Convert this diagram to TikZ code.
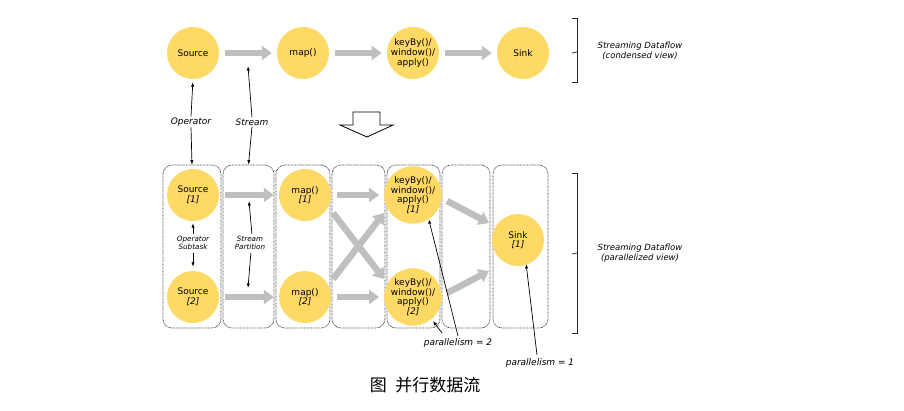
\documentclass[tikz,border=0pt]{standalone}
\usepackage{fontspec}
\setmainfont{DejaVu Sans}
\newfontfamily\cjk{Noto Sans CJK SC}
\usetikzlibrary{arrows.meta,calc}
\definecolor{opyellow}{HTML}{FFD966}
\definecolor{flowgray}{HTML}{BFBFBF}
\definecolor{boxline}{HTML}{3A3A3A}
\begin{document}
\begin{tikzpicture}[x=1pt,y=-1pt,
  opnode/.style={circle,fill=opyellow,minimum size=52pt,inner sep=0pt,align=center,
    font=\fontsize{9}{9.6}\selectfont},
  flow/.style={draw=flowgray,line width=6.5pt,-{Triangle[width=14pt,length=10pt]}},
  hflow/.style={flow,shorten <=6pt,shorten >=5pt},
  arr/.style={-{Latex[length=4.5pt,width=3.2pt]},line width=0.7pt},
  lbl/.style={inner sep=1pt,align=center,font=\fontsize{9}{10}\selectfont\itshape},
  slbl/.style={inner sep=1pt,align=center,font=\fontsize{7.2}{8.5}\selectfont\itshape},
  blbl/.style={inner sep=1pt,align=center,font=\fontsize{8.5}{10.5}\selectfont\itshape},
  taskbox/.style={draw=boxline,line width=0.7pt,dash pattern=on 0.7pt off 0.7pt,
    rounded corners=9pt,minimum height=163pt,inner sep=0pt},
  brk/.style={line width=0.7pt,draw=black!85}
]
\useasboundingbox (0,0) rectangle (904,410);
\fill[white] (0,0) rectangle (904,410);

% ---------- condensed view ----------
\node[opnode] (src) at (193,53) {Source};
\node[opnode] (map) at (303,53) {map()};
\node[opnode] (key) at (413,53) {keyBy()/\\window()/\\apply()};
\node[opnode] (sink) at (523,53) {Sink};
\draw[hflow] (src) -- (map);
\draw[hflow] (map) -- (key);
\draw[hflow] (key) -- (sink);

\draw[brk] (572,18) -- (577,18) -- (577,82) -- (572,82);
\draw[brk] (577,52) -- (572,53);
\node[blbl] (bt1) at (640,51) {Streaming Dataflow\\(condensed view)};

% labels between views
\node[lbl] (op) at (191,122) {Operator};
\node[lbl] (st) at (252,122) {Stream};
\coordinate (sttip) at (248,66);

% big hollow arrow
\draw[line width=0.8pt,line join=miter] (353,112) -- (380,112) -- (380,125) -- (393,125)
  -- (367,137) -- (340,125) -- (353,125) -- cycle;

% ---------- parallelized view ----------
\node[taskbox,minimum width=58pt] (box1) at (192,246.5) {};
\node[taskbox,minimum width=51pt] (box2) at (248.5,246.5) {};
\node[taskbox,minimum width=54pt] (box3) at (303,246.5) {};
\node[taskbox,minimum width=53pt] (box4) at (358.5,246.5) {};
\node[taskbox,minimum width=53pt] (box5) at (413.5,246.5) {};
\node[taskbox,minimum width=48pt] (box6) at (466,246.5) {};
\node[taskbox,minimum width=55pt] (box7) at (520.5,246.5) {};

\node[opnode] (src1) at (193,195) {Source\\\textit{[1]}};
\node[opnode] (src2) at (193,297) {Source\\\textit{[2]}};
\node[opnode] (map1) at (305,195) {map()\\\textit{[1]}};
\node[opnode] (map2) at (305,297) {map()\\\textit{[2]}};
\node[opnode] (key1) at (413,195) {keyBy()/\\window()/\\apply()\\\textit{[1]}};
\node[opnode] (key2) at (413,297) {keyBy()/\\window()/\\apply()\\\textit{[2]}};
\node[opnode] (sink1) at (518,240) {Sink\\\textit{[1]}};

\draw[hflow] (src1) -- (map1);
\draw[hflow] (src2) -- (map2);
\draw[hflow] (map1) -- (key1);
\draw[hflow] (map2) -- (key2);

\coordinate (xa1) at (333,213);
\coordinate (xa2) at (384,279);
\coordinate (xb1) at (333,279);
\coordinate (xb2) at (384,213);
\draw[flow] (xa1) -- (xa2);
\draw[flow] (xb1) -- (xb2);

\coordinate (ka1) at (447,201);
\coordinate (ka2) at (489,223);
\coordinate (kb1) at (447,293);
\coordinate (kb2) at (489,271);
\draw[flow] (ka1) -- (ka2);
\draw[flow] (kb1) -- (kb2);

% operator / stream arrows
\draw[arr,shorten >=3pt] (op.north) -- (src.south);
\draw[arr] (op.south) -- (box1.north);
\draw[arr] (st.north) -- (sttip);
\draw[arr] (st.south) -- (box2.north);

% subtask / partition labels
\node[slbl] (ops) at (193,243) {Operator\\Subtask};
\draw[arr,shorten <=1pt,shorten >=2pt] (ops.north) -- (src1.south);
\draw[arr,shorten <=2pt,shorten >=4pt] (ops.south) -- (src2.north);
\node[slbl] (sp) at (250,243) {Stream\\Partition};
\coordinate (sptop) at (249,201);
\coordinate (spbot) at (248,288);
\draw[arr,shorten <=1pt] ($(sp.north)+(2,0)$) -- (sptop);
\draw[arr,shorten <=2pt] ($(sp.south)+(1,0)$) -- (spbot);

% parallelism labels
\node[lbl] (p2) at (458,343) {parallelism = 2};
\node[lbl] (p1) at (540,363) {parallelism = 1};
\coordinate (p2a) at (458,336);
\coordinate (p2b) at (442,333);
\coordinate (p2c) at (433,321);
\draw[arr] (p2a) -- (key1.-57);
\draw[arr] (p2b) -- (p2c);
\coordinate (p1a) at (537,355);
\draw[arr] (p1a) -- ($(sink1.-72)+(0,-1)$);

\draw[brk] (572,173) -- (577,173) -- (577,333) -- (572,333);
\draw[brk] (577,253) -- (572,254);
\node[blbl] (bt2) at (640,253) {Streaming Dataflow\\(parallelized view)};

% caption
\node[inner sep=0pt,font=\fontsize{17}{20}\selectfont] (cap) at (425,385) {\cjk 图\hspace{0.5em}并行数据流};
\end{tikzpicture}
\end{document}
